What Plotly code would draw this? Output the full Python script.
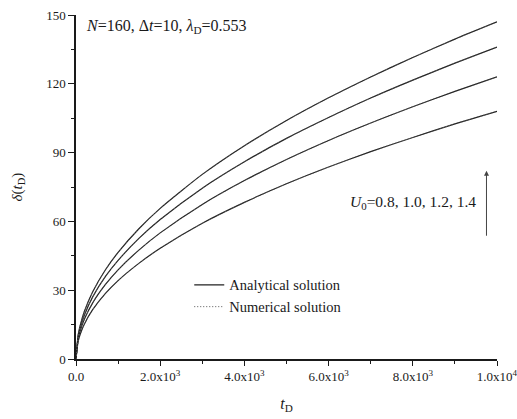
import plotly.graph_objects as go

# Dimensionless time t_D
t_D = [0, 50, 100, 200, 400, 700, 1000, 1500, 2000, 3000, 4000, 5000, 6000, 7000, 8000, 9000, 10000]

# delta(t_D), one series per U0
U0_labels = ["1.4", "1.2", "1.0", "0.8"]
delta_U14 = [0, 10.4, 14.7, 20.8, 29.4, 38.9, 46.5, 56.9, 65.7, 80.5, 93.0, 104.0, 113.9, 123.0, 131.5, 139.5, 147.0]
delta_U12 = [0, 9.6, 13.6, 19.2, 27.2, 36.0, 43.0, 52.7, 60.8, 74.5, 86.0, 96.2, 105.3, 113.8, 121.6, 129.0, 136.0]
delta_U10 = [0, 8.7, 12.3, 17.4, 24.6, 32.5, 38.9, 47.6, 55.0, 67.4, 77.8, 87.0, 95.3, 102.9, 110.0, 116.7, 123.0]
delta_U08 = [0, 7.6, 10.8, 15.3, 21.6, 28.6, 34.2, 41.8, 48.3, 59.2, 68.3, 76.4, 83.7, 90.4, 96.6, 102.5, 108.0]

# Numerical solution overlaps the analytical one
num_U14 = [0, 10.4, 14.7, 20.8, 29.4, 38.9, 46.5, 56.9, 65.7, 80.5, 93.0, 104.0, 113.9, 123.0, 131.5, 139.5, 147.0]
num_U12 = [0, 9.6, 13.6, 19.2, 27.2, 36.0, 43.0, 52.7, 60.8, 74.5, 86.0, 96.2, 105.3, 113.8, 121.6, 129.0, 136.0]
num_U10 = [0, 8.7, 12.3, 17.4, 24.6, 32.5, 38.9, 47.6, 55.0, 67.4, 77.8, 87.0, 95.3, 102.9, 110.0, 116.7, 123.0]
num_U08 = [0, 7.6, 10.8, 15.3, 21.6, 28.6, 34.2, 41.8, 48.3, 59.2, 68.3, 76.4, 83.7, 90.4, 96.6, 102.5, 108.0]

x_tickvals = [0, 2000, 4000, 6000, 8000, 10000]
x_ticktext = ["0.0", "2.0x10<sup>3</sup>", "4.0x10<sup>3</sup>", "6.0x10<sup>3</sup>",
              "8.0x10<sup>3</sup>", "1.0x10<sup>4</sup>"]
y_tickvals = [0, 30, 60, 90, 120, 150]

FONT = "Liberation Serif"
INK = "#1a1a1a"

fig = go.Figure()

analytical = [delta_U14, delta_U12, delta_U10, delta_U08]
numerical = [num_U14, num_U12, num_U10, num_U08]

for i, ys in enumerate(analytical):
    fig.add_trace(go.Scatter(
        x=t_D, y=ys, mode="lines", line=dict(color="#222222", width=1.2, shape="spline", smoothing=0.6),
        name="Analytical solution", legendgroup="a", showlegend=(i == 0)))
for i, ys in enumerate(numerical):
    fig.add_trace(go.Scatter(
        x=t_D, y=ys, mode="lines", line=dict(color="#555555", width=1, dash="1px,2px", shape="spline", smoothing=0.6),
        name="Numerical solution", legendgroup="n", showlegend=(i == 0)))

fig.update_layout(
    width=517, height=419,
    margin=dict(l=76, r=20, t=15, b=60),
    paper_bgcolor="white", plot_bgcolor="white",
    font=dict(family=FONT, size=13, color=INK),
    showlegend=True,
    legend=dict(x=0.269, y=0.262, xanchor="left", yanchor="top",
                bgcolor="rgba(0,0,0,0)", font=dict(family=FONT, size=14.5, color=INK),
                tracegroupgap=0, itemwidth=30),
    xaxis=dict(range=[0, 10000], showgrid=False, zeroline=False, automargin=False,
               showline=True, linecolor=INK, linewidth=1.5,
               ticks="outside", ticklen=5, tickwidth=1.2, tickcolor=INK,
               tickvals=x_tickvals, ticktext=x_ticktext, ticklabeloverflow="allow",
               minor=dict(ticks="outside", ticklen=3, dtick=1000, tickcolor=INK, tickwidth=1.2),
               title=dict(text="<i>t</i><sub>D</sub>", font=dict(family=FONT, size=16), standoff=14)),
    yaxis=dict(range=[0, 150], showgrid=False, zeroline=False, automargin=False,
               showline=True, linecolor=INK, linewidth=1.5,
               ticks="outside", ticklen=6, tickwidth=1.2, tickcolor=INK,
               tickvals=y_tickvals,
               minor=dict(ticks="outside", ticklen=3, dtick=15, tickcolor=INK, tickwidth=1.2),
               title=dict(text="<i>δ</i>(<i>t</i><sub>D</sub>)", font=dict(family=FONT, size=15), standoff=20)),
)

fig.add_annotation(xref="paper", yref="paper", x=0.02, y=0.966, xanchor="left", yanchor="middle",
                   text="<i>N</i>=160, Δ<i>t</i>=10, <i>λ</i><sub>D</sub>=0.553", showarrow=False,
                   font=dict(family=FONT, size=16, color=INK))
fig.add_annotation(xref="paper", yref="paper", x=0.955, y=0.455, xanchor="right", yanchor="middle",
                   text="<i>U</i><sub>0</sub>=0.8, 1.0, 1.2, 1.4", showarrow=False,
                   font=dict(family=FONT, size=15.5, color=INK))
fig.add_annotation(xref="x domain", yref="y domain", x=0.975, y=0.547, ax=0.975, ay=0.354,
                   axref="x domain", ayref="y domain", text="", showarrow=True,
                   arrowhead=2, arrowsize=1, arrowwidth=1, arrowcolor="#444444")

fig.write_html("out.html", config={"displayModeBar": False},
               post_script="document.body.style.margin='0';document.body.style.overflow='hidden';")
